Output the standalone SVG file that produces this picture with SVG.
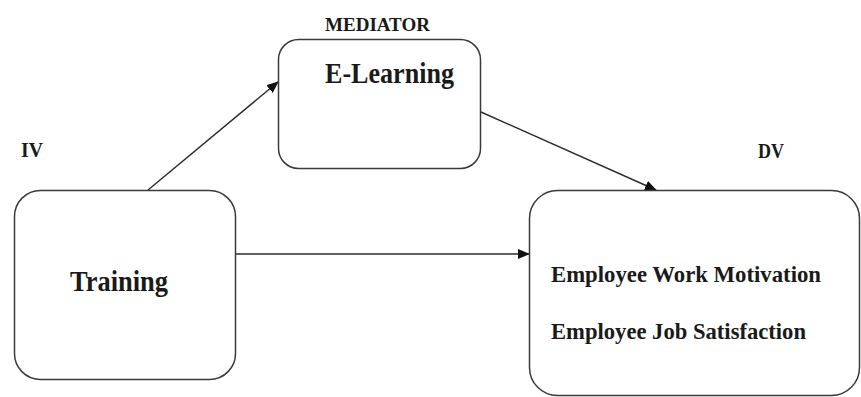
<svg xmlns="http://www.w3.org/2000/svg" width="861" height="397" viewBox="0 0 861 397">
<style>
.box{fill:#fff;stroke:#3a3a3a;stroke-width:1.5}
.t{font-family:"Liberation Serif","Times New Roman",serif;font-weight:bold;fill:#1a1a1a}
.edge{stroke:#2a2a2a;stroke-width:1.4;fill:none}
</style>
<defs>
<marker id="ah" markerWidth="12" markerHeight="10" refX="11" refY="5" orient="auto" markerUnits="userSpaceOnUse">
<path d="M0,0 L12,5 L0,10 Z" fill="#111"/>
</marker>
</defs>
<rect width="861" height="397" fill="#fff"/>
<g id="connectors">
<line class="edge" x1="148" y1="190" x2="278" y2="82" marker-end="url(#ah)"/>
<line class="edge" x1="481" y1="112" x2="656" y2="190" marker-end="url(#ah)"/>
<line class="edge" x1="236" y1="254" x2="529" y2="254" marker-end="url(#ah)"/>
</g>
<g id="label-mediator"><text class="t" x="325" y="31" font-size="19" textLength="105" lengthAdjust="spacingAndGlyphs">MEDIATOR</text></g>
<g id="label-iv"><text class="t" x="21" y="157" font-size="20" textLength="22" lengthAdjust="spacingAndGlyphs">IV</text></g>
<g id="label-dv"><text class="t" x="758" y="158" font-size="20" textLength="26" lengthAdjust="spacingAndGlyphs">DV</text></g>
<g id="node-elearning">
<rect class="box" x="278.5" y="39.5" width="202" height="129" rx="20"/>
<text class="t" x="325" y="83" font-size="29" textLength="129" lengthAdjust="spacingAndGlyphs">E-Learning</text>
</g>
<g id="node-training">
<rect class="box" x="14.5" y="190.5" width="221" height="189" rx="26"/>
<text class="t" x="70" y="291" font-size="30" textLength="98" lengthAdjust="spacingAndGlyphs">Training</text>
</g>
<g id="node-dv">
<rect class="box" x="529.5" y="190.5" width="330" height="205" rx="28"/>
<text class="t" x="551" y="282" font-size="23" textLength="270" lengthAdjust="spacingAndGlyphs">Employee Work Motivation</text>
<text class="t" x="551" y="339" font-size="23" textLength="255" lengthAdjust="spacingAndGlyphs">Employee Job Satisfaction</text>
</g>
</svg>
